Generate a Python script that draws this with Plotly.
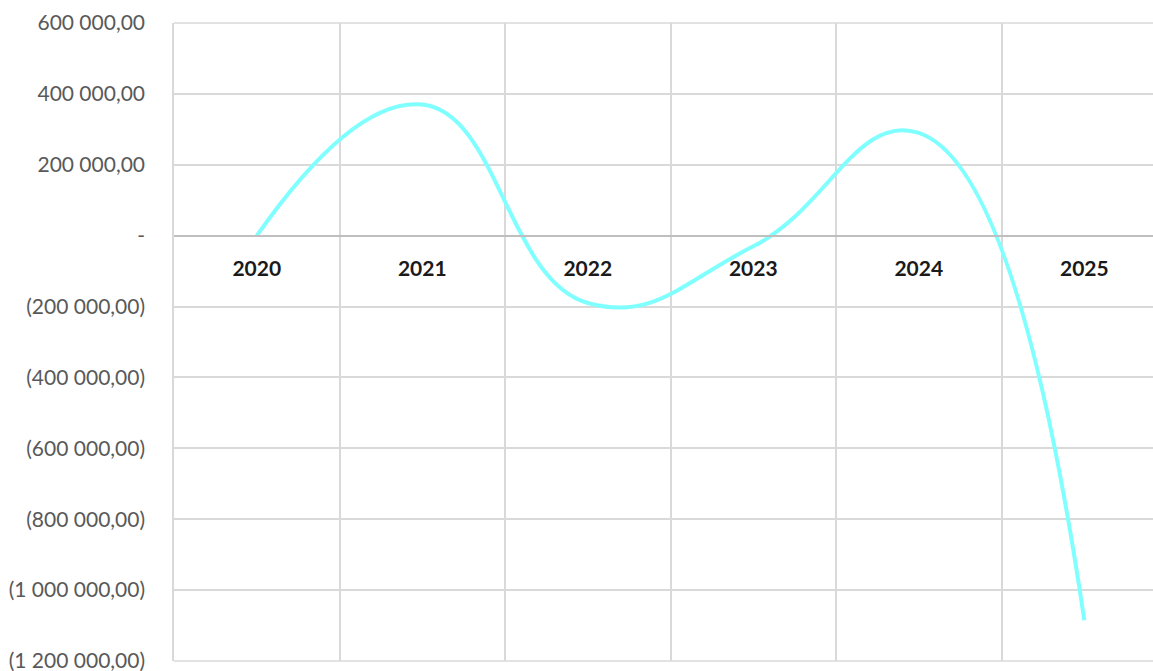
import plotly.graph_objects as go

years = ["2020", "2021", "2022", "2023", "2024", "2025"]
values = [0, 370000, -190000, -30000, 290000, -1085000]

y_tick_vals = [600000, 400000, 200000, 0, -200000, -400000, -600000, -800000, -1000000, -1200000]
y_tick_text = ["600 000,00", "400 000,00", "200 000,00", "-", "(200 000,00)", "(400 000,00)",
               "(600 000,00)", "(800 000,00)", "(1 000 000,00)", "(1 200 000,00)"]

GRID = "#d9d9d9"

fig = go.Figure()
fig.add_trace(go.Scatter(
    x=years, y=values, mode="lines",
    line=dict(color="#80FFFF", width=4, shape="spline", smoothing=1.3),
    hoverinfo="skip", showlegend=False,
))

fig.update_layout(
    width=1153, height=671,
    margin=dict(l=174, r=0, t=23, b=10),
    paper_bgcolor="white", plot_bgcolor="white",
    font=dict(family="Lato, Carlito, sans-serif"),
    shapes=[
        dict(type="line", xref="paper", yref="paper", x0=0, x1=1, y0=1, y1=1,
             line=dict(color=GRID, width=1.5), layer="below"),
        dict(type="line", xref="paper", yref="paper", x0=0, x1=1, y0=0, y1=0,
             line=dict(color=GRID, width=1.5), layer="below"),
    ],
)
fig.update_xaxes(
    type="category", tickson="boundaries",
    range=[-0.5, 5.415],
    showgrid=True, gridcolor=GRID, gridwidth=1.5,
    showline=True, linecolor="#bfbfbf", linewidth=1.5,
    anchor="free", position=6/9,
    ticks="", ticklabelstandoff=14,
    tickfont=dict(family="Lato, sans-serif", size=21, color="#1a1a1a", weight="bold"),
    zeroline=False,
)
fig.update_yaxes(
    range=[-1200000, 600000],
    tickvals=y_tick_vals, ticktext=y_tick_text,
    showgrid=True, gridcolor=GRID, gridwidth=1.5,
    zeroline=False, showline=True, linecolor=GRID, linewidth=1.5,
    ticks="", ticklabelstandoff=23, ticklabeloverflow="allow",
    tickfont=dict(family="Lato, sans-serif", size=21, color="#595959"),
)

fig.write_html("out.html")
